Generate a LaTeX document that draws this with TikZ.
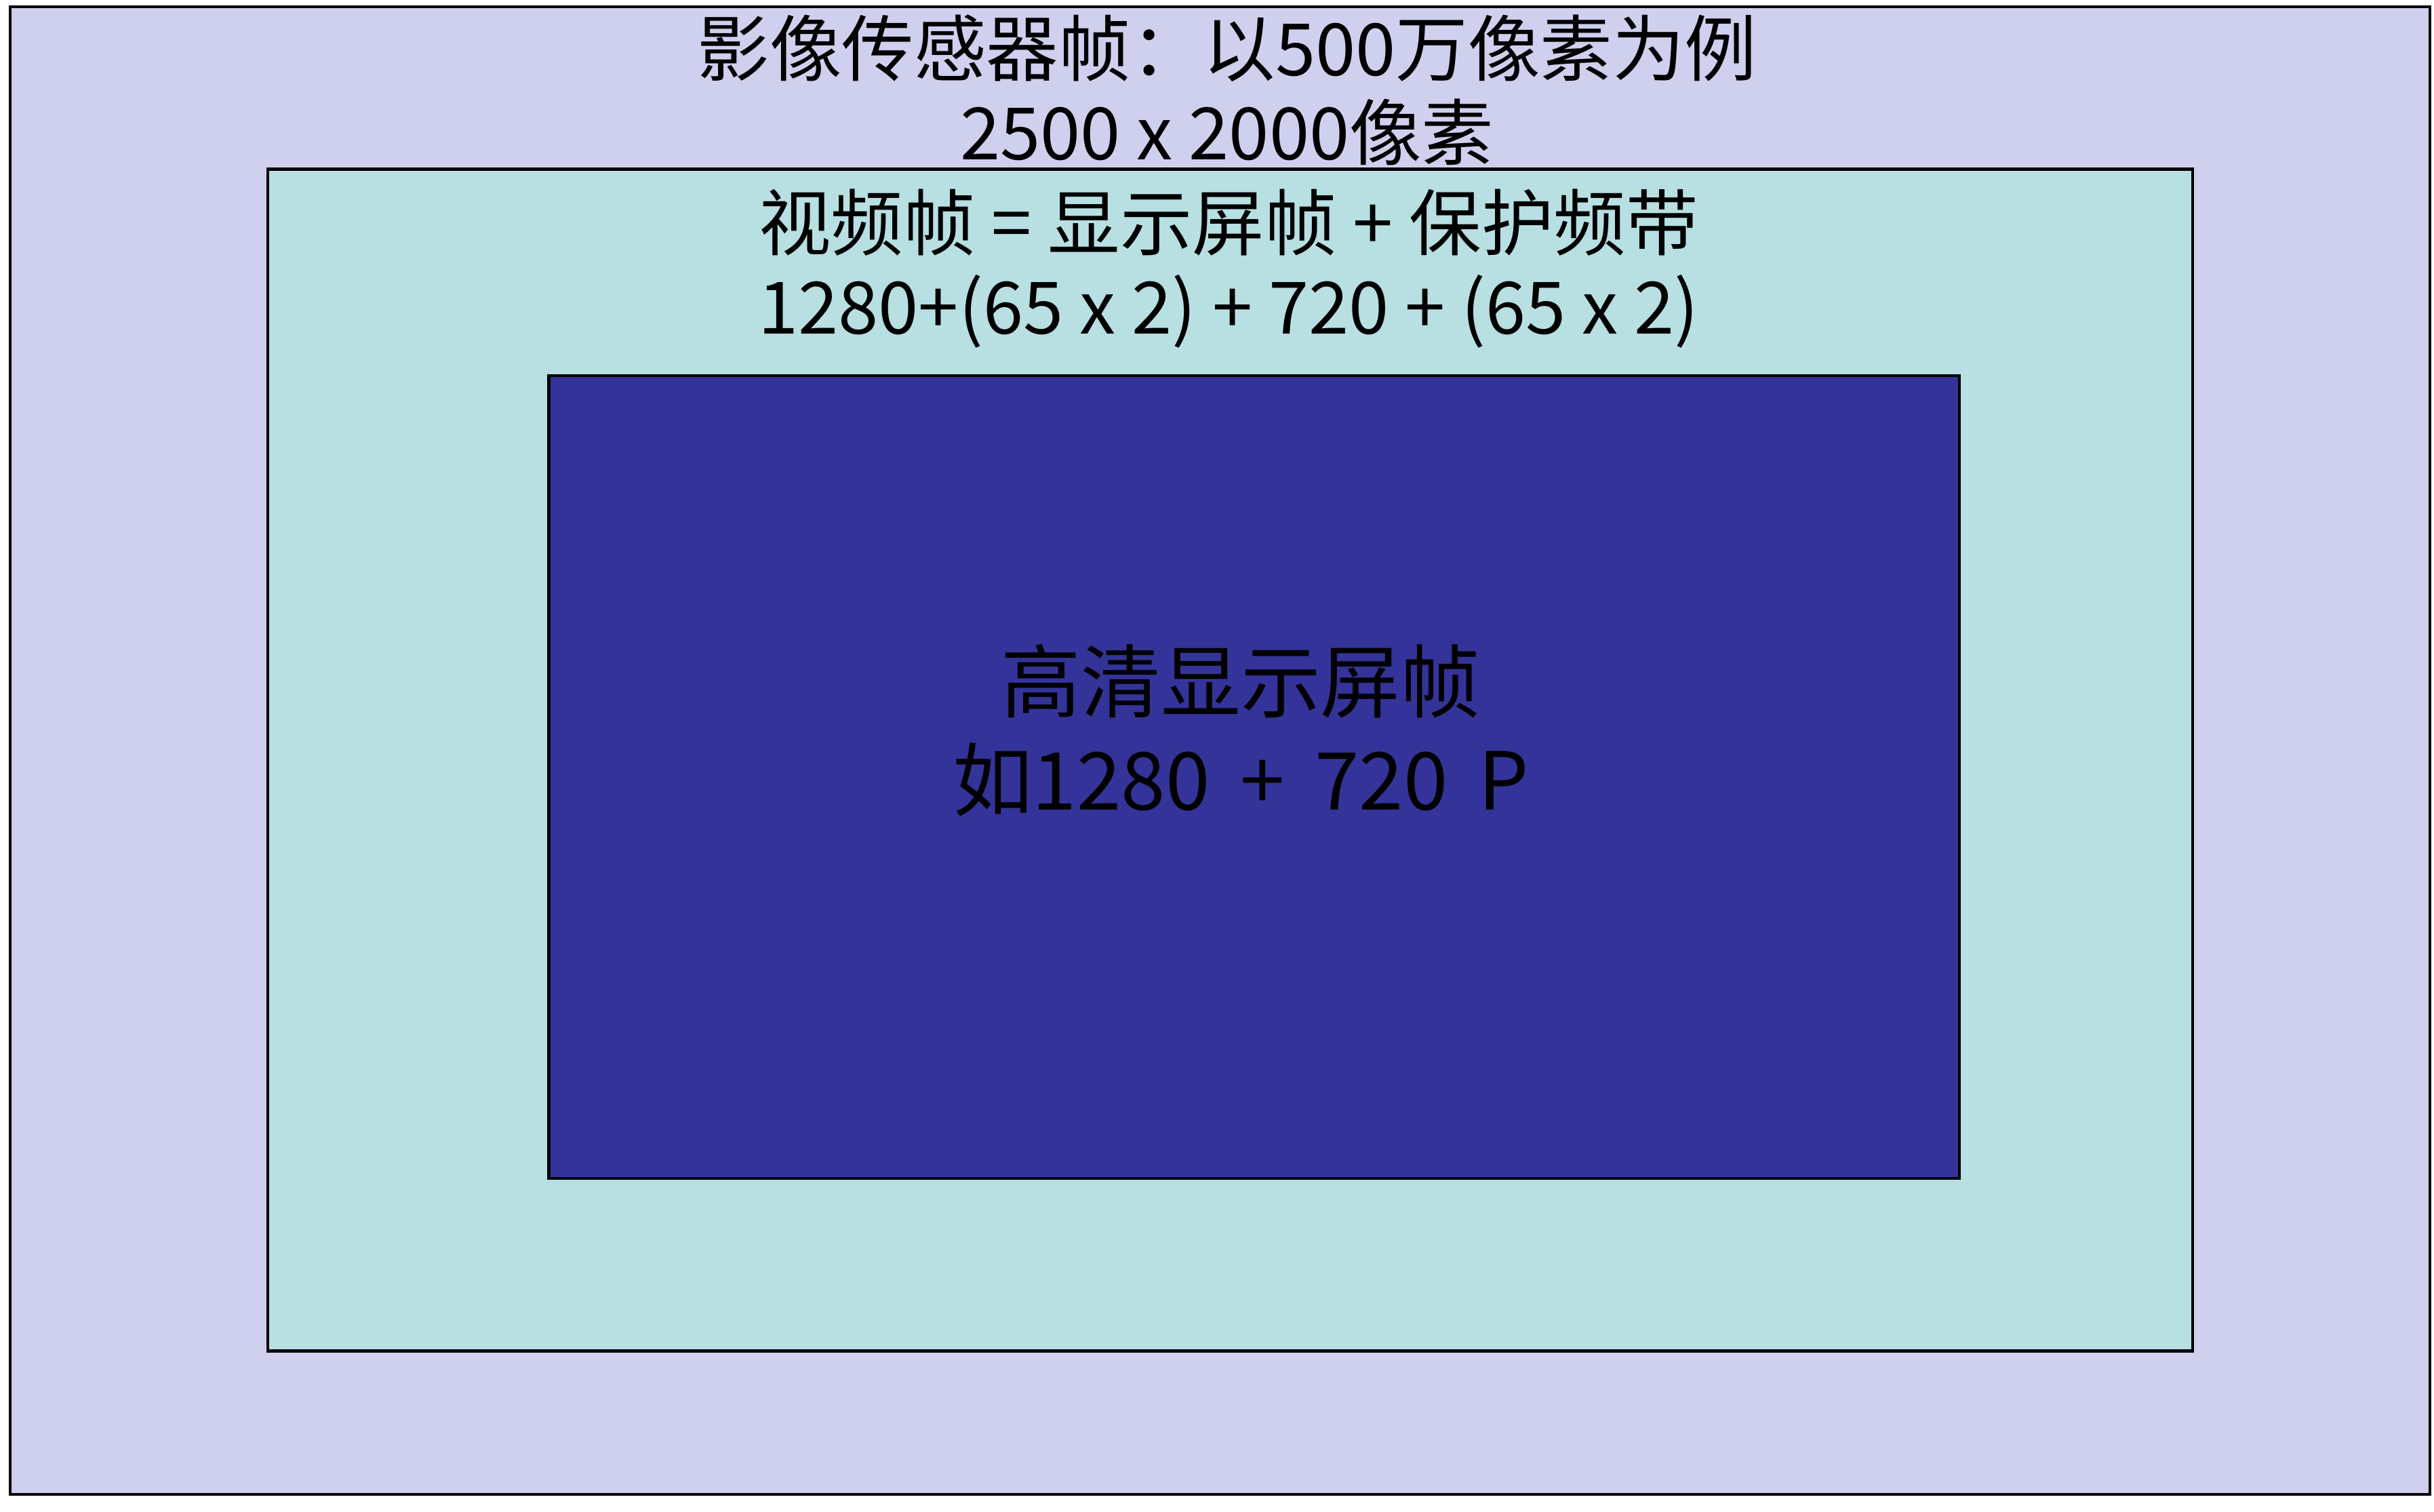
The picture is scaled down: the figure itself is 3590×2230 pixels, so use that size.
\documentclass[tikz,border=0pt]{standalone}
\usepackage{fontspec}
\newfontfamily\cjk{Noto Sans CJK SC}
\usepackage{xcolor}
\definecolor{sensorbg}{RGB}{207,207,238}
\definecolor{videobg}{RGB}{184,223,226}
\definecolor{screenbg}{RGB}{51,51,153}

\begin{document}
\begin{tikzpicture}[x=0.01cm, y=-0.01cm]
  \tikzstyle{frame}=[draw=black, line width=1.2pt, rectangle, inner sep=0pt, outer sep=0pt]
  \tikzstyle{label}=[align=center, inner sep=0pt, text=black,
                     font=\cjk\fontsize{30.3}{35.3}\selectfont]
  \tikzstyle{biglabel}=[label, font=\cjk\fontsize{33.5}{41.2}\selectfont]
  \useasboundingbox[fill=white] (0,0) rectangle (3590,2230);
  % frames, outer to inner
  \node[frame, fill=sensorbg, minimum width=35.67cm, minimum height=21.92cm] (sensor) at (1799.5,1107) {};
  \node[frame, fill=videobg,  minimum width=28.37cm, minimum height=17.42cm] (video)  at (1814.5,1121) {};
  \node[frame, fill=screenbg, minimum width=20.79cm, minimum height=11.84cm] (screen) at (1849.5,1146) {};
  % labels
  \node[label] (sensortext) at (1810,133) {影像传感器帧：以500万像素为例\\2500 x 2000像素};
  \node[label] (videotext)  at (1812,396) {视频帧 = 显示屏帧 + 保护频带\\1280+(65 x 2) + 720 + (65 x 2)};
  \node[biglabel] (screentext) at (1830,1077)
    {高清显示屏帧\\如1280\hspace{0.38em}+\hspace{0.38em}720\hspace{0.38em}P};
\end{tikzpicture}
\end{document}
